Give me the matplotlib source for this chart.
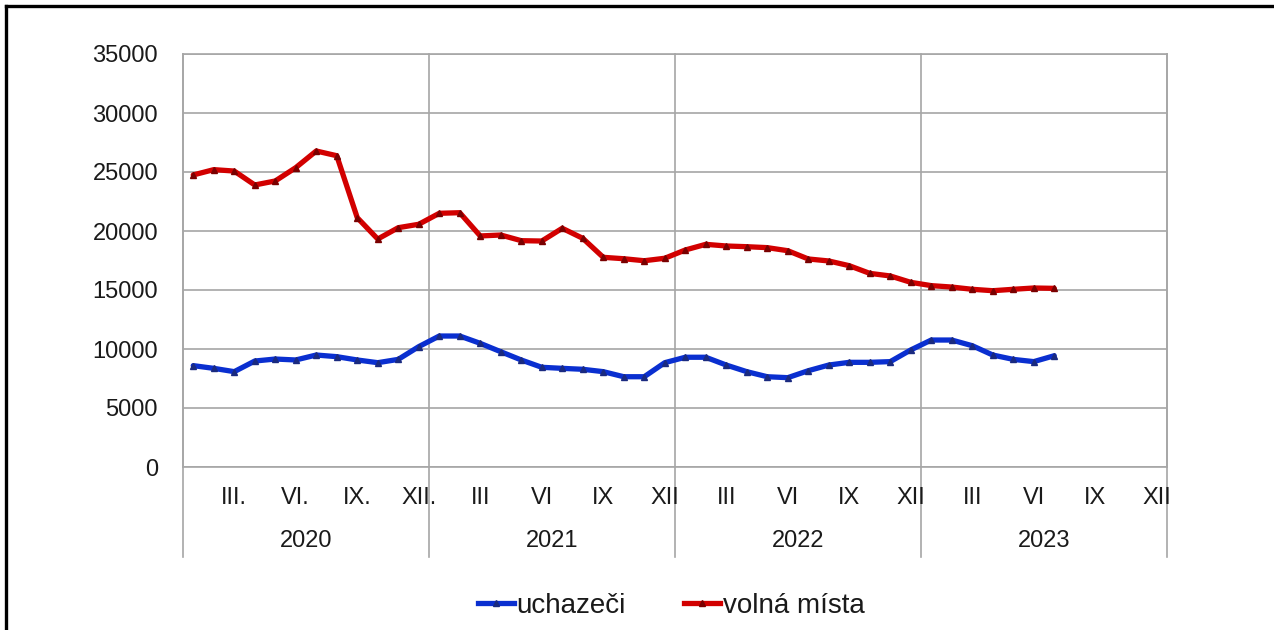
import numpy as np
import matplotlib.pyplot as plt
from matplotlib.lines import Line2D
import matplotlib.transforms as mtransforms

plt.rcParams['font.family'] = ['Liberation Sans', 'DejaVu Sans']

# ------------------------------------------------------------
# Data (monthly, Jan 2020 - Jul 2023)
# ------------------------------------------------------------

uchazeci = [
    8590, 8360, 8080, 8980, 9150, 9070, 9490, 9350, 9070, 8840, 9120, 10200,
    11100, 11100, 10480, 9770, 9070, 8450, 8360, 8280, 8080, 7650, 7650, 8840,
    9300, 9300, 8640, 8080, 7650, 7570, 8160, 8640, 8870, 8870, 8930, 9920,
    10760, 10760, 10280, 9490, 9120, 8930, 9430,
]

volna_mista = [
    24750, 25200, 25080, 23900, 24240, 25370, 26780, 26380, 21130, 19320, 20280, 20570,
    21500, 21550, 19580, 19660, 19180, 19150, 20230, 19380, 17770, 17650, 17480, 17690,
    18390, 18870, 18730, 18670, 18590, 18330, 17630, 17460, 17060, 16410, 16190, 15650,
    15370, 15250, 15060, 14940, 15060, 15170, 15140,
]

years = ["2020", "2021", "2022", "2023"]
month_ticks = [2, 5, 8, 11]
month_labels_2020 = ["III.", "VI.", "IX.", "XII."]
month_labels = ["III", "VI", "IX", "XII"]

n_months = 12 * len(years)

# ------------------------------------------------------------
# Figure
# ------------------------------------------------------------

fig = plt.figure(figsize=(12.74, 6.30), dpi=100)
ax = fig.add_axes([183 / 1274, 163 / 630, 984 / 1274, 413 / 630])

grid_col = "#a6a6a6"
text_col = "#1a1a1a"
blue, blue_mk = "#0a2fd0", "#1a2a80"
red, red_mk = "#d20000", "#7a0000"

x = np.arange(len(uchazeci)) + 0.5

ax.plot(x, uchazeci, color=blue, linewidth=3.8,
        marker="^", markersize=5, markerfacecolor=blue_mk,
        markeredgecolor=blue_mk, solid_capstyle="round", zorder=3)
ax.plot(x, volna_mista, color=red, linewidth=3.8,
        marker="^", markersize=5, markerfacecolor=red_mk,
        markeredgecolor=red_mk, solid_capstyle="round", zorder=3)

ax.set_xlim(0, n_months)
ax.set_ylim(0, 35000)
ax.set_yticks(np.arange(0, 35001, 5000))
ax.yaxis.grid(True, color=grid_col, linewidth=1.2)
ax.set_axisbelow(True)
ax.set_xticks([])
ax.tick_params(axis="y", length=0, pad=18, labelsize=17, labelcolor=text_col)

for s in ax.spines.values():
    s.set_color(grid_col)
    s.set_linewidth(1.2)

# year separators, extending below the axis
trans = mtransforms.blended_transform_factory(ax.transData, ax.transAxes)
for k in range(len(years) + 1):
    ax.plot([12 * k, 12 * k], [-0.218, 1], color=grid_col, linewidth=1.2,
            transform=trans, clip_on=False, zorder=1)

# month and year labels
for k, yr in enumerate(years):
    labels = month_labels_2020 if k == 0 else month_labels
    for m, lab in zip(month_ticks, labels):
        ax.text(12 * k + m + 0.5, -0.075, lab, transform=trans,
                ha="center", va="center", fontsize=17, color=text_col)
    ax.text(12 * k + 6, -0.18, yr, transform=trans,
            ha="center", va="center", fontsize=17, color=text_col)

# legend
handles = [
    Line2D([], [], color=blue, linewidth=3.8, marker="^", markersize=4,
           markerfacecolor=blue_mk, markeredgecolor=blue_mk),
    Line2D([], [], color=red, linewidth=3.8, marker="^", markersize=4,
           markerfacecolor=red_mk, markeredgecolor=red_mk),
]
fig.legend(handles, ["uchazeči", "volná místa"], loc="center",
           bbox_to_anchor=(0.527, 0.038), ncol=2, frameon=False,
           fontsize=20, handlelength=1.3, handletextpad=0.1,
           columnspacing=2.1, labelcolor=text_col)

# outer frame (top and left visible)
fig.add_artist(Line2D([6 / 1274, 1], [1 - 6 / 630, 1 - 6 / 630],
                      color="black", linewidth=2.4))
fig.add_artist(Line2D([6 / 1274, 6 / 1274], [0, 1 - 6 / 630],
                      color="black", linewidth=2.4))

fig.savefig("out.png", dpi=100)
